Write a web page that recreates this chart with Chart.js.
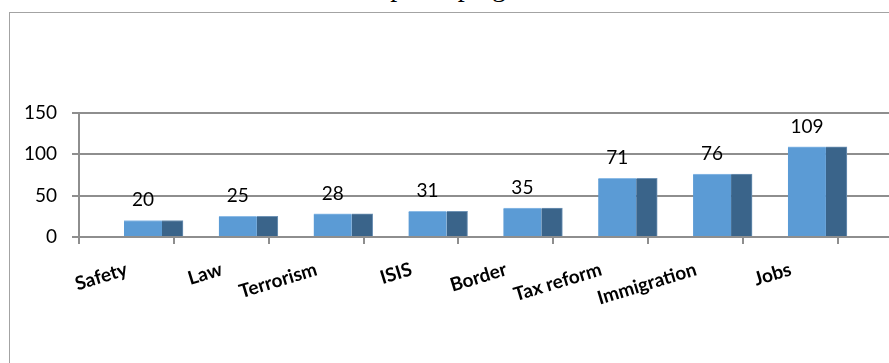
<!DOCTYPE html>
<html>
<head>
<meta charset="utf-8">
<script src="https://cdn.jsdelivr.net/npm/chart.js@4.4.1/dist/chart.umd.min.js"></script>
<style>
    html, body { margin: 0; padding: 0; background: #fff; }
    #wrap { position: relative; width: 889px; height: 363px; overflow: hidden; }
    #frame { position: absolute; left: 9px; top: 12px; right: -5px; bottom: -5px;
             border-top: 1px solid #a3a3a3; border-left: 1px solid #a3a3a3; }
    #title { position: absolute; left: 329px; top: -27px; line-height: 28px; white-space: nowrap;
             font-family: "Liberation Serif", serif; font-size: 28px; color: #000; }
    canvas { position: absolute; left: 0; top: 0; }
</style>
</head>
<body>
<div id="wrap">
    <div id="title">Trump campaign</div>
    <div id="frame"></div>
    <canvas id="issuesChart" width="889" height="363"></canvas>
</div>
<script>
const CATEGORIES = ["Safety", "Law", "Terrorism", "ISIS", "Border", "Tax reform", "Immigration", "Jobs"];
const FRONT_VALUES = [20, 25, 28, 31, 35, 71, 76, 109];
const SIDE_VALUES = [20, 25, 28, 31, 35, 71, 76, 109];
const Y_TICKS = [0, 50, 100, 150];

// axis runs past the right edge of the picture
const X_MIN = -0.5;
const X_MAX = 8.04;
// the 3d columns sit to the right of the label position
const BAR_SHIFT = 0.375;

const GRID_COLOR = "#8e8e8e";
const TICK_LENGTH = 7;
const FONT = "Lato";

Chart.defaults.color = "#000";
Chart.defaults.font.family = FONT;

const valueLabels = {
    id: "valueLabels",
    afterDatasetsDraw(chart) {
        const ctx = chart.ctx;
        const meta = chart.getDatasetMeta(0);
        ctx.save();
        ctx.font = "19px " + FONT;
        ctx.fillStyle = "#000";
        ctx.textAlign = "center";
        ctx.textBaseline = "alphabetic";
        meta.data.forEach((bar, i) => {
            ctx.fillText(String(FRONT_VALUES[i]), bar.x, bar.y - 14);
        });
        ctx.restore();
    }
};

// small marks under the x axis at every category boundary
const boundaryMarks = {
    id: "boundaryMarks",
    afterDraw(chart) {
        const scale = chart.scales.x;
        const ctx = chart.ctx;
        const y0 = chart.chartArea.bottom;
        ctx.save();
        ctx.strokeStyle = GRID_COLOR;
        ctx.lineWidth = 2;
        ctx.beginPath();
        scale.ticks.forEach((t) => {
            const px = Math.round(scale.getPixelForValue(t.value));
            ctx.moveTo(px, y0);
            ctx.lineTo(px, y0 + TICK_LENGTH);
        });
        ctx.stroke();
        ctx.restore();
    }
};

/**
 * tick marks on the category boundaries, labels moved back half a slot
 */
function buildXTicks(axis) {
    let ticks = [];
    for (let k = 0; k <= CATEGORIES.length; k++) {
        ticks.push({ value: X_MIN + k });
    }
    axis.ticks = ticks;
}

function toPoints(values) {
    return values.map((v, i) => ({ x: i, y: v }));
}

function getConfigChart() {
    return {
        type: "bar",
        data: {
            datasets: [
                {
                    label: "front",
                    data: toPoints(FRONT_VALUES),
                    xAxisID: "xBars",
                    backgroundColor: "#5b9bd5",
                    borderColor: "#8cbbe6",
                    borderWidth: { top: 1, left: 0, right: 0, bottom: 0 },
                    barThickness: 38
                },
                {
                    label: "side",
                    data: toPoints(SIDE_VALUES),
                    xAxisID: "xBars",
                    backgroundColor: "#3a648a",
                    borderColor: "#6f93b5",
                    borderWidth: { top: 1, left: 0, right: 1, bottom: 0 },
                    barThickness: 21
                }
            ]
        },
        options: {
            responsive: false,
            animation: false,
            layout: { padding: { top: 113, left: 0, right: 0, bottom: 0 } },
            scales: {
                x: {
                    type: "linear",
                    position: "bottom",
                    offset: false,
                    bounds: "data",
                    min: X_MIN,
                    max: X_MAX,
                    afterBuildTicks: buildXTicks,
                    afterFit: (axis) => { axis.height = 126; },
                    grid: {
                        offset: false,
                        drawOnChartArea: false,
                        drawTicks: true,
                        tickLength: TICK_LENGTH,
                        lineWidth: 2,
                        color: GRID_COLOR,
                        tickColor: GRID_COLOR,
                        tickWidth: 2
                    },
                    border: { display: true, color: GRID_COLOR, width: 2 },
                    ticks: {
                        autoSkip: false,
                        minRotation: 17,
                        maxRotation: 17,
                        padding: 14,
                        labelOffset: -47,
                        color: "#000",
                        font: { size: 19, weight: "bold" },
                        callback: (v) => CATEGORIES[v - X_MIN - 1] || ""
                    }
                },
                xBars: {
                    type: "linear",
                    display: false,
                    offset: false,
                    bounds: "data",
                    min: X_MIN - BAR_SHIFT,
                    max: X_MAX - BAR_SHIFT
                },
                y: {
                    min: 0,
                    max: 150,
                    afterBuildTicks: (axis) => { axis.ticks = Y_TICKS.map(v => ({ value: v })); },
                    afterFit: (axis) => { axis.width = 79; },
                    grid: { color: GRID_COLOR, lineWidth: 2, tickLength: TICK_LENGTH },
                    border: { display: true, color: GRID_COLOR, width: 2 },
                    ticks: { padding: 15, color: "#000", font: { size: 19 } }
                }
            },
            plugins: {
                legend: { display: false },
                tooltip: { enabled: false }
            }
        },
        plugins: [valueLabels, boundaryMarks]
    };
}

let ctx = document.getElementById("issuesChart").getContext("2d");
new Chart(ctx, getConfigChart());
</script>
</body>
</html>
